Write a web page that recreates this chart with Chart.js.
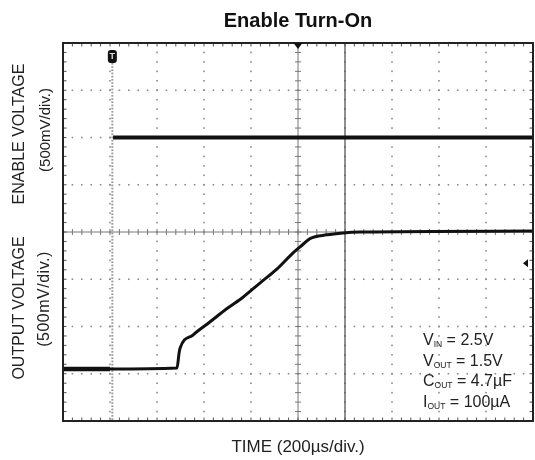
<!DOCTYPE html>
<html><head><meta charset="utf-8">
<script src="https://cdn.jsdelivr.net/npm/chart.js@4.4.1/dist/chart.umd.min.js"></script>
<style>
html,body{margin:0;padding:0;background:#fff;}
#wrap{position:relative;width:535px;height:460px;font-family:"Liberation Sans",Arial,sans-serif;color:#222;}
canvas{position:absolute;left:0;top:0;}
.ylab{position:absolute;white-space:nowrap;font-size:16px;line-height:1;transform:translate(-50%,-50%) rotate(-90deg);}
.ylab.s{font-size:15px;}
.note{position:absolute;left:423px;top:330px;font-size:16px;line-height:20.5px;white-space:nowrap;}
.note sub{font-size:8.5px;line-height:0;vertical-align:baseline;position:relative;top:2px;}
</style></head>
<body><div id="wrap">
<canvas id="c" width="535" height="460"></canvas>
<div class="ylab" style="left:19px;top:134px">ENABLE VOLTAGE</div>
<div class="ylab s" style="left:44px;top:130px">(500mV/div.)</div>
<div class="ylab" style="left:19px;top:308px">OUTPUT VOLTAGE</div>
<div class="ylab s" style="left:44px;top:299px;font-size:16px;letter-spacing:0.5px">(500mV/div.)</div>
<div class="note">V<sub>IN</sub> = 2.5V<br>V<sub>OUT</sub> = 1.5V<br>C<sub>OUT</sub> = 4.7µF<br>I<sub>OUT</sub> = 100µA</div>
</div>
<script>
// ---- data (time in µs relative to trigger, volts) ----
const enableTime  = [13, 1800];
const enableVolts = [2.5, 2.5];
const outTime  = [-200, 0, 285, 294, 298, 353, 426, 498, 566, 638, 711, 779, 817, 851, 923, 991, 1064, 1800];
const outVolts = [0.05, 0.05, 0.06, 0.22, 0.27, 0.41, 0.55, 0.69, 0.81, 0.96, 1.11, 1.28, 1.36, 1.43, 1.47, 1.49, 1.50, 1.51];
// graticule divisions (200 µs/div, 500 mV/div)
const xDivs = [-200, 0, 200, 400, 600, 800, 1000, 1200, 1400, 1600, 1800];
const yDivs = [-0.5, 0, 0.5, 1.0, 1.5, 2.0, 2.5, 3.0, 3.5];
const xCenter = 800, yCenter = 1.5;
const triggerTime = 10, cursorTime = 1000, refLevel = 1.17;

const toPts = (xs, ys) => xs.map((v, i) => ({x: v, y: ys[i]}));

function minorVals(divs) {
  const out = [];
  for (let i = 0; i < divs.length - 1; i++) {
    const s = (divs[i + 1] - divs[i]) / 5;
    for (let k = 0; k < 5; k++) out.push(divs[i] + k * s);
  }
  out.push(divs[divs.length - 1]);
  return out;
}

const graticule = {
  id: 'graticule',
  beforeDatasetsDraw(chart) {
    const {ctx, chartArea: a, scales: {x, y}} = chart;
    const xm = minorVals(xDivs), ym = minorVals(yDivs);
    ctx.save();
    // dotted major grid
    ctx.fillStyle = '#8c8c8c';
    xDivs.slice(1, -1).forEach(xv => {
      if (xv === xCenter) return;
      const px = x.getPixelForValue(xv);
      ym.forEach(yv => { const py = y.getPixelForValue(yv); ctx.fillRect(px - 0.8, py - 0.8, 1.6, 1.6); });
    });
    yDivs.slice(1, -1).forEach(yv => {
      if (yv === yCenter) return;
      const py = y.getPixelForValue(yv);
      xm.forEach(xv => { const px = x.getPixelForValue(xv); ctx.fillRect(px - 0.8, py - 0.8, 1.6, 1.6); });
    });
    // centre axes with minor ticks
    ctx.strokeStyle = '#777';
    ctx.lineWidth = 1;
    const cx = x.getPixelForValue(xCenter), cy = y.getPixelForValue(yCenter);
    ctx.beginPath();
    ctx.moveTo(cx, a.top); ctx.lineTo(cx, a.bottom);
    ctx.moveTo(a.left, cy); ctx.lineTo(a.right, cy);
    ym.forEach(yv => { const py = y.getPixelForValue(yv); ctx.moveTo(cx - 3, py); ctx.lineTo(cx + 3, py); });
    xm.forEach(xv => { const px = x.getPixelForValue(xv); ctx.moveTo(px, cy - 3); ctx.lineTo(px, cy + 3); });
    ctx.stroke();
    // border ticks
    ctx.strokeStyle = '#555';
    ctx.beginPath();
    xm.forEach(xv => { const px = x.getPixelForValue(xv);
      ctx.moveTo(px, a.top); ctx.lineTo(px, a.top + 3.5);
      ctx.moveTo(px, a.bottom); ctx.lineTo(px, a.bottom - 3.5); });
    ym.forEach(yv => { const py = y.getPixelForValue(yv);
      ctx.moveTo(a.left, py); ctx.lineTo(a.left + 3.5, py);
      ctx.moveTo(a.right, py); ctx.lineTo(a.right - 3.5, py); });
    ctx.stroke();
    // trigger dotted line
    const tx = x.getPixelForValue(triggerTime);
    ctx.fillStyle = '#9a9a9a';
    for (let py = a.top + 20; py < a.bottom; py += 3.2) ctx.fillRect(tx - 1, py, 2, 1.7);
    // cursor
    const ux = x.getPixelForValue(cursorTime);
    ctx.strokeStyle = '#555';
    ctx.lineWidth = 1.3;
    ctx.beginPath(); ctx.moveTo(ux, a.top); ctx.lineTo(ux, a.bottom); ctx.stroke();
    ctx.restore();
  },
  afterDatasetsDraw(chart) {
    const {ctx, chartArea: a, scales: {x, y}} = chart;
    ctx.save();
    // frame
    ctx.strokeStyle = '#222';
    ctx.lineWidth = 2;
    ctx.strokeRect(a.left, a.top, a.right - a.left, a.bottom - a.top);
    // trigger marker
    const tx = x.getPixelForValue(triggerTime);
    ctx.fillStyle = '#111';
    ctx.beginPath();
    ctx.roundRect(tx - 4.5, a.top + 7, 9, 13, 3);
    ctx.fill();
    ctx.fillStyle = '#ddd';
    ctx.font = 'bold 9px "Liberation Sans", Arial';
    ctx.textAlign = 'center'; ctx.textBaseline = 'middle';
    ctx.fillText('T', tx, a.top + 13.5);
    // centre trigger-position triangle
    const cx = x.getPixelForValue(xCenter);
    ctx.fillStyle = '#111';
    ctx.beginPath();
    ctx.moveTo(cx - 4.5, a.top); ctx.lineTo(cx + 4.5, a.top); ctx.lineTo(cx, a.top + 6); ctx.closePath(); ctx.fill();
    // reference arrow on right
    const ry = y.getPixelForValue(refLevel);
    ctx.beginPath();
    ctx.moveTo(a.right - 10, ry); ctx.lineTo(a.right - 5, ry - 4); ctx.lineTo(a.right - 5, ry + 4); ctx.closePath(); ctx.fill();
    ctx.restore();
  }
};

new Chart(document.getElementById('c'), {
  type: 'line',
  data: {
    datasets: [
      {label: 'Enable', data: toPts(enableTime, enableVolts), borderColor: '#111', borderWidth: 4, pointRadius: 0, tension: 0},
      {label: 'Output', data: toPts(outTime, outVolts), borderColor: '#111', borderWidth: 3, pointRadius: 0,
       cubicInterpolationMode: 'monotone',
       segment: {borderWidth: c => c.p0.parsed.x < 0 ? 4.5 : 3}}
    ]
  },
  options: {
    responsive: false, animation: false, devicePixelRatio: 1,
    layout: {padding: {left: 63, right: 2, top: 0, bottom: 0}},
    plugins: {
      legend: {display: false}, tooltip: {enabled: false},
      title: {display: true, text: 'Enable Turn-On', color: '#111',
        font: {family: '"Liberation Sans", Arial, sans-serif', size: 20, weight: 'bold', lineHeight: 1.2},
        padding: {top: 9, bottom: 10}}
    },
    scales: {
      x: {type: 'linear', min: -200, max: 1800,
        ticks: {display: false}, grid: {display: false, drawTicks: false}, border: {display: false},
        title: {display: true, text: 'TIME (200µs/div.)', color: '#222',
          font: {family: '"Liberation Sans", Arial, sans-serif', size: 17, lineHeight: 1.2},
          padding: {top: 15.8, bottom: 2.8}}},
      y: {type: 'linear', min: -0.5, max: 3.5, display: false}
    }
  },
  plugins: [graticule]
});
</script>
</body></html>
